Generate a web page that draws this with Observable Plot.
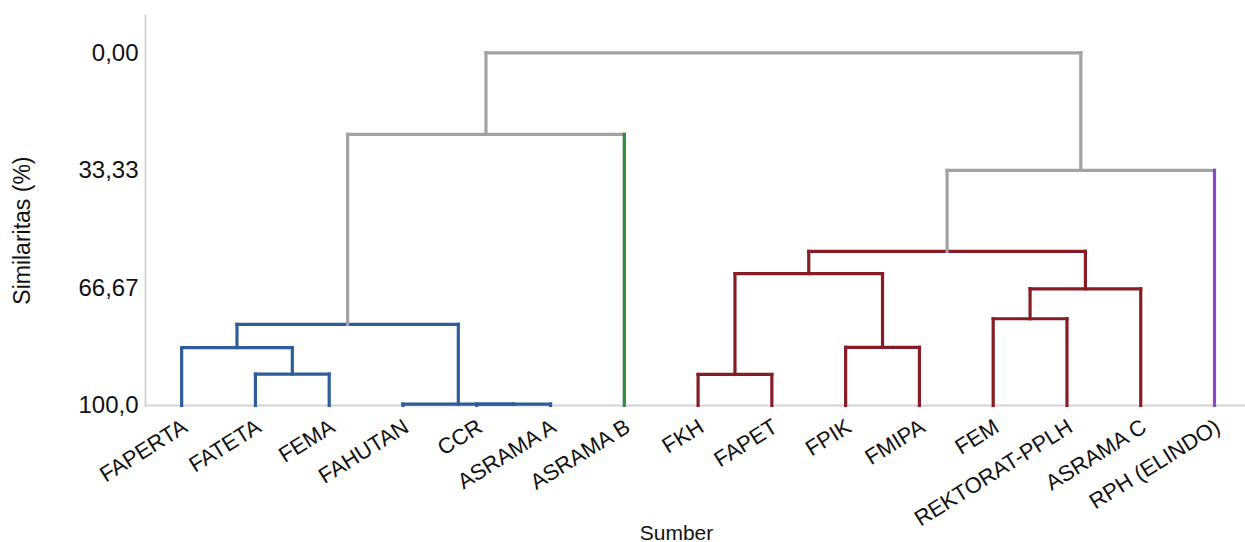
<!DOCTYPE html>
<html>
<head>
<meta charset="utf-8">
<script src="https://cdn.jsdelivr.net/npm/d3@7"></script>
<script src="https://cdn.jsdelivr.net/npm/@observablehq/plot@0.6"></script>
<style>
  html, body { margin: 0; padding: 0; background: #fff; }
</style>
</head>
<body>
<div id="chart"></div>
<script>
// Leaves (in dendrogram order)
const leaves = ["FAPERTA","FATETA","FEMA","FAHUTAN","CCR","ASRAMA A","ASRAMA B","FKH","FAPET","FPIK","FMIPA","FEM","REKTORAT-PPLH","ASRAMA C","RPH (ELINDO)"];
const leafGroup = ["A","A","A","A","A","A","C","B","B","B","B","B","B","B","D"];

// Merges: node ids 0..14 are leaves, merge k gets id 15 + k
const mergeLeft   = [4, 3, 1, 0, 18, 19, 7, 9, 21, 11, 24, 23, 26, 20];
const mergeRight  = [5, 15, 2, 17, 16, 6, 8, 10, 22, 12, 13, 25, 14, 27];
const mergeSimilarity = [99.6, 99.6, 91.1, 83.6, 77.0, 23.1, 91.2, 83.5, 62.6, 75.4, 66.9, 56.3, 33.33, 0];
const mergeGroup  = ["A","A","A","A","A","G","B","B","B","B","B","B","G","G"];

const groupNames  = ["A","B","C","D","G"];
const groupColors = ["#2f5c9a","#861d26","#2f8a3e","#8d45c9","#a2a2a2"];

const yTicks = [0, 33.33, 66.67, 100];
const yTickLabels = ["0,00","33,33","66,67","100,0"];

// Build node positions (leaf index, similarity) and segments
const nodeX = leaves.map((d, i) => i);
const nodeY = leaves.map(() => 100);
mergeLeft.forEach((l, k) => {
  const r = mergeRight[k];
  nodeX.push((nodeX[l] + nodeX[r]) / 2);
  nodeY.push(mergeSimilarity[k]);
});
const segments = [];
mergeLeft.forEach((l, k) => {
  const r = mergeRight[k];
  const h = mergeSimilarity[k];
  segments.push({x1: nodeX[l], x2: nodeX[r], y1: h, y2: h, group: mergeGroup[k]});
  for (const c of [l, r]) {
    const g = c < leaves.length ? leafGroup[c] : mergeGroup[k];
    segments.push({x1: nodeX[c], x2: nodeX[c], y1: nodeY[c], y2: h, group: g});
  }
});

const chart = Plot.plot({
  width: 1245,
  height: 542,
  marginLeft: 145,
  marginRight: 0,
  marginTop: 15,
  marginBottom: 137,
  style: {fontFamily: "'Liberation Sans', Arial, sans-serif", color: "#111", background: "#fff"},
  x: {type: "linear", domain: [-0.49, 14.42], axis: null},
  y: {domain: [-10.6, 100], reverse: true, axis: null},
  color: {domain: groupNames, range: groupColors},
  marks: [
    Plot.frame({anchor: "left", stroke: "#d4d4d4", strokeWidth: 2}),
    Plot.frame({anchor: "bottom", stroke: "#d4d4d4", strokeWidth: 2}),
    Plot.axisY({ticks: yTicks, tickFormat: d => yTickLabels[yTicks.indexOf(d)], tickSize: 0, tickPadding: 7, fontSize: 24, label: null}),
    Plot.link(segments, {x1: "x1", y1: "y1", x2: "x2", y2: "y2", stroke: "group", strokeWidth: 3.2, strokeLinecap: "square"}),
    Plot.text(leaves, {x: (d, i) => i, frameAnchor: "bottom", text: d => d, rotate: -32, textAnchor: "end", lineAnchor: "top", dx: -1, dy: 12, fontSize: 22, fill: "#111"}),
    Plot.text(["Similaritas (%)"], {y: [50.4], frameAnchor: "left", text: d => d, rotate: -90, textAnchor: "middle", dx: -123, fontSize: 23, fill: "#111"}),
    Plot.text(["Sumber"], {frameAnchor: "bottom", text: d => d, textAnchor: "middle", dx: -19, dy: 134, fontSize: 21, fill: "#111"})
  ]
});
document.getElementById("chart").appendChild(chart);
</script>
</body>
</html>
